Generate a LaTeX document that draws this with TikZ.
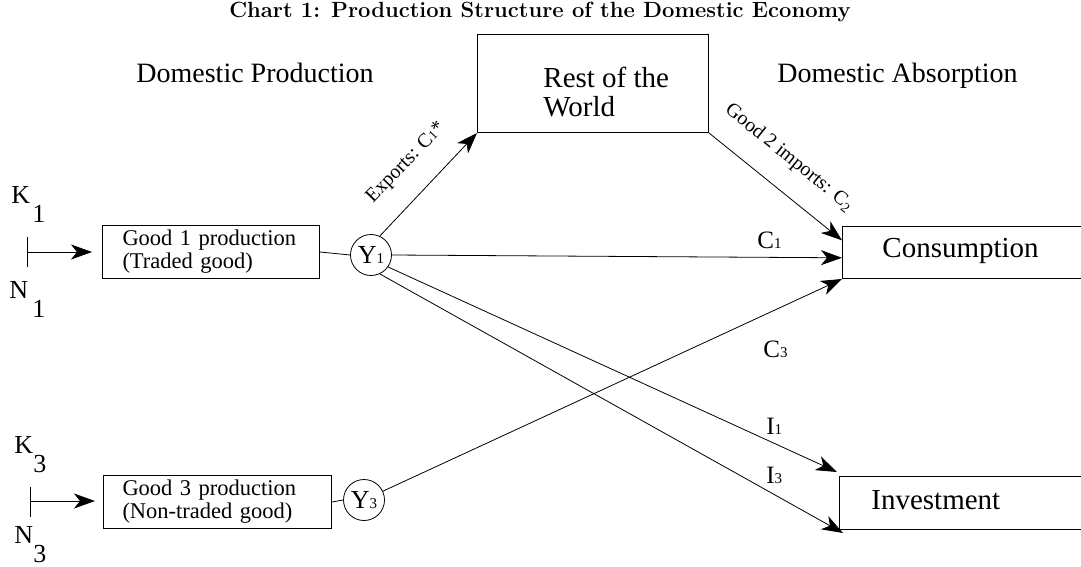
\documentclass[tikz,border=0pt]{standalone}
\usepackage{fontspec}
\newfontfamily\tms{Liberation Serif}
\usetikzlibrary{arrows.meta,calc}
\begin{document}
\begin{tikzpicture}[x=1pt,y=-1pt,
  line width=0.8pt,
  arr/.style={-{Stealth[length=21pt,width=15pt,inset=6pt]}},
  tx/.style={font=\tms\fontsize{#1}{#1}\selectfont, inner sep=0pt, anchor=base west},
  pbox/.style={draw, line width=1pt, anchor=north west, align=left,
     font=\tms\fontsize{22.5}{23}\selectfont, minimum height=53pt},
  obox/.style={draw, line width=1pt, anchor=north west},
  yc/.style={draw, circle, minimum size=41pt, inner sep=0pt,
     font=\tms\fontsize{26}{26}\selectfont}
]
\useasboundingbox (0,0) rectangle (1081,567);

% title
\node[font=\bfseries\fontsize{22}{22}\selectfont, anchor=base, inner sep=0pt] (title) at (540,18)
  {Chart 1: Production Structure of the Domestic Economy};

% headings
\node[tx=28] (dp) at (136,83) {Domestic Production};
\node[tx=28] (da) at (777,83) {Domestic Absorption};

% rest of world
\node[obox, minimum width=231pt, minimum height=98pt] (row) at (477,34) {};
\node[tx=29] (row1) at (543,88) {Rest of the};
\node[tx=29] (row2) at (543,117) {World};

% production boxes
\node[pbox, text width=177pt, inner xsep=20pt] (g1) at (102,225)
  {Good 1 production\\(Traded good)};
\node[pbox, text width=190pt, inner xsep=19pt] (g3) at (103,475)
  {Good 3 production\\(Non-traded good)};

% output circles
\node[yc] (y1) at (371,255) {Y{\fontsize{15}{15}\selectfont 1}};
\node[yc] (y3) at (364,500) {Y{\fontsize{15}{15}\selectfont 3}};

% absorption boxes
\node[obox, minimum width=300pt, minimum height=52pt] (cons) at (842,226) {};
\node[tx=29] (consT) at (882,257) {Consumption};
\node[obox, minimum width=300pt, minimum height=53pt] (inv) at (839,476) {};
\node[tx=29] (invT) at (871,509) {Investment};

% factor inputs
\node[tx=26] (k1) at (11,203) {K};
\node[tx=26] (k1s) at (32,222) {1};
\node[tx=26] (n1) at (9,298) {N};
\node[tx=26] (n1s) at (32,317) {1};
\node[tx=26] (k3) at (14,453) {K};
\node[tx=26] (k3s) at (33,472) {3};
\node[tx=26] (n3) at (14,543) {N};
\node[tx=26] (n3s) at (33,562) {3};

\coordinate (t1a) at (27,237);
\coordinate (t1b) at (27,267);
\coordinate (t1m) at (27,252);
\coordinate (t3a) at (30,487);
\coordinate (t3b) at (30,517);
\coordinate (t3m) at (30,501);

\draw (t1a) -- (t1b);
\draw[arr, shorten >=10pt] (t1m) -- (g1.west |- t1m);
\draw (t3a) -- (t3b);
\draw[arr, shorten >=8pt] (t3m) -- (g3.west |- t3m);

% links
\draw (g1.east) -- (y1.west);
\draw (g3.east) -- (y3.west);
\draw[arr] (y1.65) -- (row.south west);
\draw[arr] (y1.east) -- ($(cons.south west)!0.4!(cons.north west)$);
\draw[arr] (row.south east) -- ($(cons.north west)!0.27!(cons.south west)$);
\draw[arr] (y3.25) -- (cons.south west);
\draw[arr] (y1.-35) -- ($(inv.north west)+(-2,-4)$);
\draw[arr] (y1.-65) -- ($(inv.south west)+(4,3)$);

% flow labels
\node[font=\tms\fontsize{20}{20}\selectfont, rotate=46, inner sep=0pt] (lex) at (406,163)
  {Exports: C{\fontsize{13}{13}\selectfont 1}*};
\node[font=\tms\fontsize{20}{20}\selectfont, rotate=-39, inner sep=0pt] (lim) at (789,158)
  {Good 2 imports: C\textsubscript{2}};
\node[tx=25] (lc1) at (757,248) {C{\fontsize{15}{15}\selectfont 1}};
\node[tx=25] (lc3) at (763,357) {C{\fontsize{15}{15}\selectfont 3}};
\node[tx=25] (li1) at (766,434) {I{\fontsize{15}{15}\selectfont 1}};
\node[tx=25] (li3) at (766,483) {I{\fontsize{15}{15}\selectfont 3}};
\end{tikzpicture}
\end{document}
